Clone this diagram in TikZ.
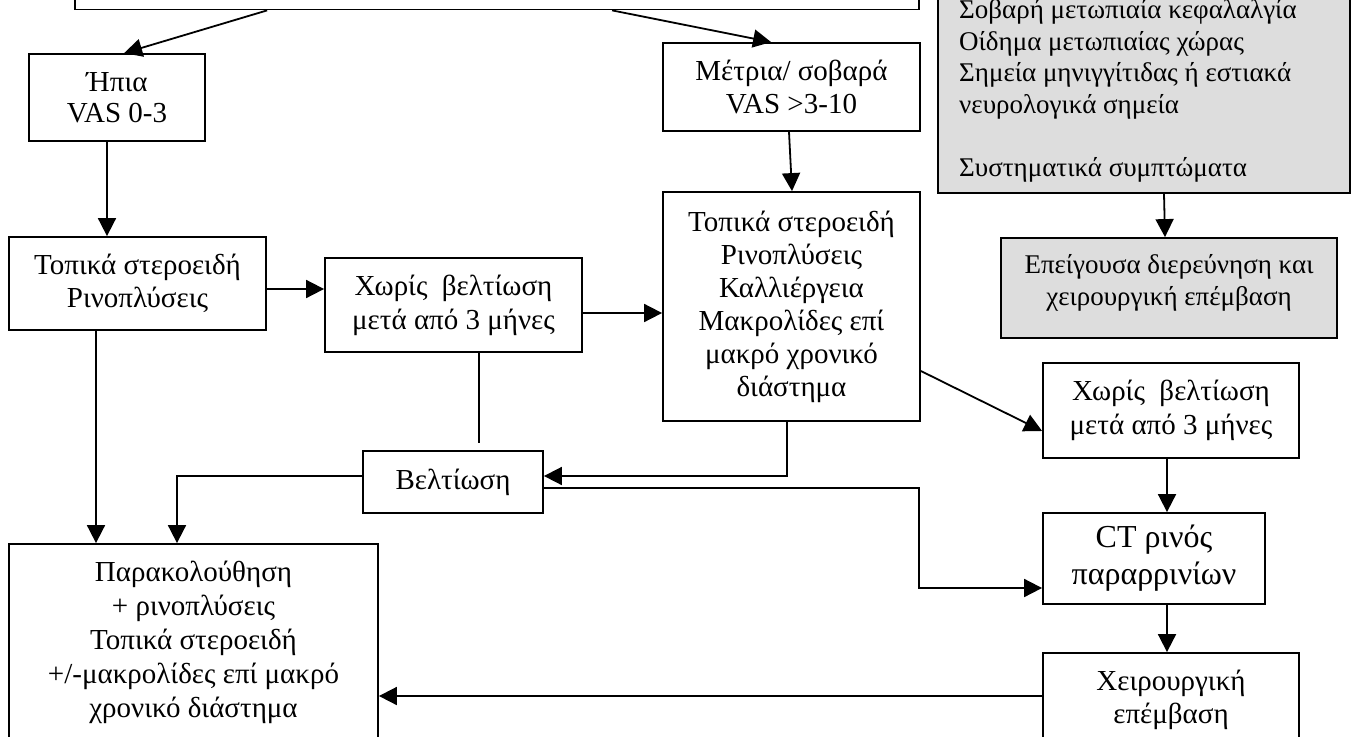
\documentclass[tikz,border=0pt]{standalone}
\usepackage{fontspec}
\setmainfont{Liberation Serif}
\usetikzlibrary{arrows.meta,calc}

\newcommand{\mainsz}{\fontsize{29}{34}\selectfont}
\newcommand{\tightsz}{\fontsize{29}{31}\selectfont}
\newcommand{\midsz}{\fontsize{29}{33}\selectfont}
\newcommand{\ctsz}{\fontsize{32}{37}\selectfont}
\newcommand{\graysz}{\fontsize{27}{31.6}\selectfont}
\definecolor{boxgray}{RGB}{221,221,221}

\tikzset{
  box/.style={draw, line width=1.8pt, inner sep=0pt, align=center, font=\mainsz},
  graybox/.style={box, fill=boxgray},
  conn/.style={line width=1.8pt},
  arr/.style={conn, -{Triangle[length=18pt,width=18pt]}},
}

\begin{document}
\begin{tikzpicture}[x=1pt, y=-1pt]
  \useasboundingbox (0,0) rectangle (1354,736);
  \clip (0,0) rectangle (1354,736);

  % boxes (centre, width, height)
  \node[box, minimum width=844pt, minimum height=49.5pt] (top) at (497,-15.25) {};
  \node[box, minimum width=176pt, minimum height=87pt, font=\tightsz] (hpia) at (117,97.5) {Ήπια\\VAS 0-3};
  \node[box, minimum width=257pt, minimum height=88pt, font=\midsz] (metria) at (791.5,87) {Μέτρια/ σοβαρά\\VAS >3-10};
  \node[box, minimum width=257pt, minimum height=93pt, font=\midsz] (topL) at (137.5,283.5) {Τοπικά στεροειδή\\Ρινοπλύσεις};
  \node[box, minimum width=257pt, minimum height=94pt] (xoris1) at (453.5,305) {Χωρίς\ \ βελτίωση\\μετά από 3 μήνες};
  \node[box, minimum width=257pt, minimum height=229pt, font=\midsz] (topM) at (791.5,306.5)
    {Τοπικά στεροειδή\\Ρινοπλύσεις\\Καλλιέργεια\\Μακρολίδες επί\\μακρό χρονικό\\διάστημα};
  \node[box, minimum width=180pt, minimum height=62pt] (belt) at (453,482) {Βελτίωση};
  \node[graybox, minimum width=412pt, minimum height=233pt] (gray) at (1144,76.5) {};
  \node[align=left, anchor=west, inner sep=0pt, font=\graysz] (graytxt) at (959,91)
    {Σοβαρή μετωπιαία κεφαλαλγία\\Οίδημα μετωπιαίας χώρας\\Σημεία μηνιγγίτιδας ή εστιακά\\νευρολογικά σημεία\\[31.6pt]Συστηματικά συμπτώματα};
  \node[graybox, minimum width=336pt, minimum height=100pt] (urgent) at (1169,288) {};
  \node[align=center, inner sep=0pt, font=\graysz] (urgtxt) at (1169,283)
    {Επείγουσα διερεύνηση και\\χειρουργική επέμβαση};
  \node[box, minimum width=256pt, minimum height=95pt] (xoris2) at (1171,410.5) {Χωρίς\ \ βελτίωση\\μετά από 3 μήνες};
  \node[box, minimum width=222pt, minimum height=91pt, font=\ctsz] (ct) at (1154,558.5) {CT ρινός\\παραρρινίων};
  \node[box, minimum width=256pt, minimum height=93pt, font=\midsz] (surg) at (1171,699.5) {Χειρουργική\\επέμβαση};
  \node[box, minimum width=369pt, minimum height=196pt] (follow) at (193.5,642)
    {Παρακολούθηση\\+ ρινοπλύσεις\\Τοπικά στεροειδή\\+/-μακρολίδες επί μακρό\\χρονικό διάστημα};

  % free end and bend of open connectors
  \coordinate (xend) at (479,443);
  \coordinate (ctjog) at (919,540);

  % connectors
  \draw[arr] ([xshift=193pt]top.south west) -- ([xshift=96pt]hpia.north west);
  \draw[arr] ([xshift=538pt]top.south west) -- ([xshift=109pt]metria.north west);
  \draw[arr] ([xshift=-10pt]hpia.south) -- ([xshift=-30.5pt]topL.north);
  \draw[arr] ([xshift=-2.5pt]metria.south) -- ([xshift=0.5pt]topM.north);
  \draw[arr] ([yshift=-5.5pt]topL.east) -- ([yshift=16pt]xoris1.west);
  \draw[arr] ([yshift=-8pt]xoris1.east) -- ([yshift=-6.5pt]topM.west);
  \draw[arr] ([xshift=20pt]gray.south) -- ([xshift=-4pt]urgent.north);
  \draw[arr] ([yshift=-64.5pt]topM.east) -- ([yshift=-20.5pt]xoris2.west);
  \draw[arr] ([xshift=-4pt]xoris2.south) -- ([xshift=13pt]ct.north);
  \draw[arr] ([xshift=13pt]ct.south) -- ([xshift=-4pt]surg.north);
  \draw[conn] ([xshift=25.5pt]xoris1.south) -- (xend);
  \draw[arr] ([xshift=-41.5pt]topL.south) -- ([xshift=-97.5pt]follow.north);
  \draw[arr] ([yshift=6pt]belt.west) -| ([xshift=-16.5pt]follow.north);
  \draw[arr] ([xshift=-4.5pt]topM.south) |- ([yshift=6pt]belt.east);
  \draw[arr] ([yshift=-6pt]belt.east) -| (ctjog) |- ([yshift=-29.5pt]ct.west);
  \draw[arr] ([yshift=3.5pt]surg.west) -- ([yshift=-54pt]follow.east);
\end{tikzpicture}
\end{document}
